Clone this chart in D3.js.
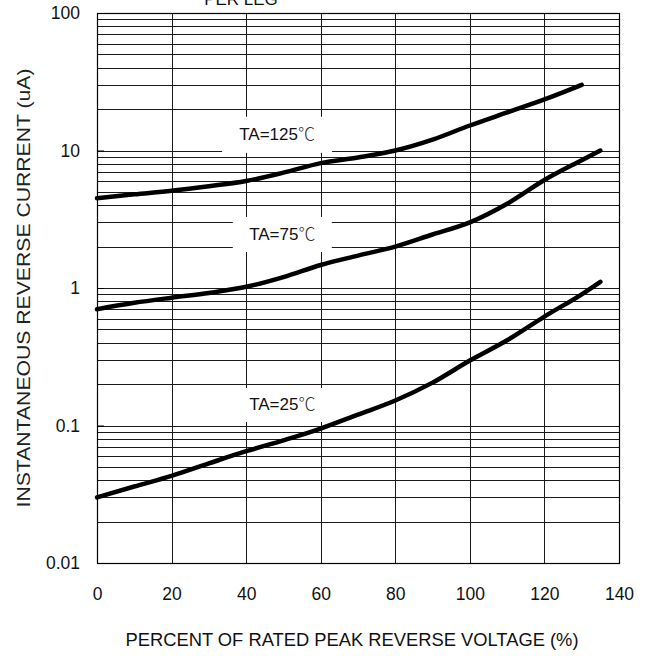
<!DOCTYPE html>
<html>
<head>
<meta charset="utf-8">
<script src="https://cdn.jsdelivr.net/npm/d3@7"></script>
<style>
  body { margin: 0; background: #fff; }
  svg { font-family: "Liberation Sans", Arial, sans-serif; }
</style>
</head>
<body>
<svg id="chart" width="645" height="656"></svg>
<script>
// percent of rated peak reverse voltage
const voltage = [0, 10, 20, 30, 40, 50, 60, 70, 80, 90, 100, 110, 120, 130, 135];
const ta25 = [0.030, 0.036, 0.043, 0.053, 0.065, 0.078, 0.095, 0.12, 0.152, 0.205, 0.297, 0.417, 0.62, 0.9, 1.11];
const ta75 = [0.70, 0.78, 0.85, 0.92, 1.02, 1.2, 1.47, 1.72, 2.0, 2.45, 3.0, 4.1, 6.1, 8.5, 10];
const ta125v = [0, 10, 20, 30, 40, 50, 60, 70, 80, 90, 100, 110, 120, 130];
const ta125 = [4.5, 4.8, 5.1, 5.5, 6.0, 6.9, 8.1, 8.9, 10, 12, 15.2, 18.9, 23.5, 30];
const xTicks = [0, 20, 40, 60, 80, 100, 120, 140];
const yTicks = [0.01, 0.1, 1, 10, 100];
const yTickLabels = ["0.01", "0.1", "1", "10", "100"];

const svg = d3.select("#chart");
const margin = { top: 13, right: 26, bottom: 93, left: 97 };
const width = 645 - margin.left - margin.right;
const height = 656 - margin.top - margin.bottom;

const x = d3.scaleLinear().domain([0, 140]).range([0, width]);
const y = d3.scaleLog().domain([0.01, 100]).range([height, 0]);

const g = svg.append("g").attr("transform", `translate(${margin.left},${margin.top})`);

// minor + major horizontal grid
const hLines = [];
for (let d = 0.01; d < 100; d *= 10) {
  for (let k = 1; k <= 9; k++) hLines.push(+(d * k).toPrecision(3));
}
g.append("g").selectAll("line").data(hLines).enter().append("line")
  .attr("x1", 0).attr("x2", width)
  .attr("y1", d => Math.round(y(d)) + 0.5).attr("y2", d => Math.round(y(d)) + 0.5)
  .attr("stroke", "#1a1a1a").attr("stroke-width", 1);

g.append("g").selectAll("line").data(xTicks.slice(1, -1)).enter().append("line")
  .attr("x1", d => Math.round(x(d)) + 0.5).attr("x2", d => Math.round(x(d)) + 0.5)
  .attr("y1", 0).attr("y2", height)
  .attr("stroke", "#1a1a1a").attr("stroke-width", 1);

// label boxes hide the grid behind the text
const labels = [
  { t: "TA=125", x: 48.3, v: 13.0, w: 110, h: 36 },
  { t: "TA=75", x: 49.7, v: 2.45, w: 99, h: 35 },
  { t: "TA=25", x: 49.7, v: 0.141, w: 96, h: 34 }
];

const line = d3.line().x(d => x(d[0])).y(d => y(d[1])).curve(d3.curveMonotoneX);
const series = [d3.zip(voltage, ta25), d3.zip(voltage, ta75), d3.zip(ta125v, ta125)];

g.append("g").selectAll("rect").data(labels).enter().append("rect")
  .attr("x", d => x(d.x) - d.w / 2).attr("y", d => y(d.v) - d.h / 2)
  .attr("width", d => d.w).attr("height", d => d.h)
  .attr("fill", "#fff");

g.append("g").selectAll("path").data(series).enter().append("path")
  .attr("d", line).attr("fill", "none")
  .attr("stroke", "#000").attr("stroke-width", 4.5).attr("stroke-linecap", "round");

const lt = g.append("g").selectAll("text").data(labels).enter().append("text")
  .attr("x", d => x(d.x)).attr("y", d => y(d.v) - 1).attr("dy", "0.36em")
  .attr("text-anchor", "middle").attr("font-size", 17).attr("fill", "#111");
lt.append("tspan").text(d => d.t);
lt.append("tspan").attr("font-family", "'Noto Sans CJK SC', sans-serif")
  .attr("font-weight", 300).attr("fill", "#333").text("℃");

// frame
g.append("rect").attr("x", 0.5).attr("y", 0.5).attr("width", width).attr("height", height)
  .attr("fill", "none").attr("stroke", "#000").attr("stroke-width", 1.2);

// axes
const yAxis = g.append("g")
  .call(d3.axisLeft(y).tickValues(yTicks).tickFormat((d, i) => yTickLabels[i]).tickSize(-7).tickPadding(17));
const xAxis = g.append("g").attr("transform", `translate(0,${height})`)
  .call(d3.axisBottom(x).tickValues(xTicks).tickSize(0).tickPadding(25));
[xAxis, yAxis].forEach(a => {
  a.select(".domain").remove();
  a.selectAll("text").attr("font-size", 17.5).attr("font-family", "'Liberation Sans', Arial, sans-serif").attr("fill", "#111");
  a.selectAll("line").attr("stroke", "#000");
});

svg.append("text").attr("x", 352).attr("y", 646).attr("text-anchor", "middle")
  .attr("font-size", 18).attr("fill", "#111")
  .attr("textLength", 453).attr("lengthAdjust", "spacingAndGlyphs")
  .text("PERCENT OF RATED PEAK REVERSE VOLTAGE (%)");

svg.append("text").attr("transform", "translate(30,288) rotate(-90)").attr("text-anchor", "middle")
  .attr("font-size", 18).attr("fill", "#222")
  .attr("textLength", 439).attr("lengthAdjust", "spacingAndGlyphs")
  .text("INSTANTANEOUS REVERSE CURRENT (uA)");

svg.append("text").attr("x", 241).attr("y", 4.5).attr("text-anchor", "middle")
  .attr("font-size", 17).attr("fill", "#111")
  .text("PER LEG");
</script>
</body>
</html>
